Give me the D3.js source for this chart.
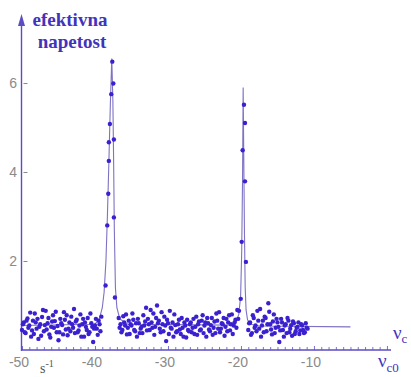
<!DOCTYPE html>
<html><head><meta charset="utf-8">
<script src="https://cdn.jsdelivr.net/npm/d3@7/dist/d3.min.js"></script>
<style>
html,body{margin:0;padding:0;background:#fff;}
svg{display:block;}
</style>
</head><body>
<svg id="c" width="411" height="377"></svg>
<script>
// ---- data ----
const xTickValues = [-50, -40, -30, -20, -10];
const yTickValues = [2, 4, 6];

// noise samples (series A on 0.25 grid)
const noiseLeftStart = -50;
const noiseLeft = [0.45,0.62,0.38,0.71,0.55,0.30,0.66,0.82,0.48,0.25,0.58,0.74,0.42,0.88,0.60,0.35,0.52,0.78,0.65,0.40,0.22,0.70,0.56,0.85,0.46,0.33,0.62,0.75,0.50,0.38,0.68,0.44,0.80,0.58,0.30,0.52,0.72,0.40,0.60,0.18,0.55,0.48,0.66,0.42];
const noiseMidStart = -36.75;
const noiseMid = [0.72,0.58,0.45,0.62,0.80,0.50,0.36,0.55,0.68,0.42,0.30,0.60,0.48,0.38,0.55,0.95,0.70,0.45,0.62,0.82,0.52,1.00,0.66,0.40,0.58,0.75,0.20,0.60,0.88,0.48,0.30,0.56,0.42,0.68,0.36,0.50,0.62,0.28,0.45,0.58,0.40,0.70,0.52,0.34,0.64,0.46,0.78,0.55,0.30,0.60,0.42,0.72,0.50,0.38,0.66,0.85,0.48,0.58,0.32,0.70,0.62,0.44,0.80,0.55,0.68,0.90];
const noiseRightStart = -19;
const noiseRight = [0.45,0.62,0.38,0.72,0.55,0.88,0.48,0.30,0.66,0.75,0.42,1.05,0.58,0.35,0.80,0.50,0.62,0.18,0.70,0.45,0.55,0.38,0.66,0.48,0.32,0.60,0.42,0.52,0.36,0.58,0.45,0.40,0.50];
// noise series B (offset by 0.125)
const noiseLeftB = [0.58,0.40,0.66,0.50,0.84,0.44,0.36,0.62,0.70,0.52,0.32,0.90,0.56,0.46,0.72,0.28,0.64,0.50,0.86,0.54,0.40,0.60,0.35,0.68,0.78,0.48,0.42,0.58,0.92,0.64,0.40,0.55,0.30,0.70,0.62,0.45,0.36,0.82,0.52,0.48,0.70,0.34,0.58,0.75];
const noiseMidB = [0.50,0.40,0.76,0.55,0.35,0.66,0.58,0.82,0.45,0.60,0.70,0.38,0.52,0.78,0.64,0.44,0.58,0.90,0.50,0.34,0.72,0.60,0.48,0.85,0.42,0.55,0.68,0.36,0.50,0.62,0.80,0.40,0.58,0.46,0.72,0.30,0.55,0.68,0.42,0.62,0.50,0.36,0.75,0.58,0.44,0.66,0.38,0.62,0.72,0.46,0.56,0.34,0.64,0.82,0.48,0.40,0.60,0.72,0.52,0.42,0.78,0.58,0.36,0.62,0.50,0.70];
const noiseRightB = [0.60,0.34,0.78,0.50,0.42,0.66,0.92,0.55,0.40,0.72,0.58,0.86,0.46,0.64,0.38,0.70,0.52,0.44,0.62,0.30,0.58,0.72,0.40,0.56,0.64,0.36,0.50,0.62,0.44,0.55,0.38,0.60,0.48];

// measured points on peaks
const peak1X = [-38.55,-38.32,-38.18,-38.10,-38.10,-37.96,-37.77,-37.63,-37.49,-37.41,-37.41,-37.27];
const peak1Y = [1.45,2.80,3.51,4.25,4.67,5.08,5.75,6.48,5.99,4.73,2.98,1.18];
const peak2X = [-20.27,-20.03,-19.90,-19.77,-19.59,-19.45,-19.45,-19.32];
const peak2Y = [0.88,1.15,2.43,4.49,5.51,5.10,3.79,1.98];

// fitted curve
const curveX = [-50,-40,-39.4,-39.0,-38.75,-38.5,-38.3,-38.1,-37.9,-37.7,-37.55,-37.45,-37.35,-37.2,-37.0,-36.6,-35.5,-21.5,-20.7,-20.3,-20.05,-19.9,-19.78,-19.7,-19.62,-19.52,-19.42,-19.3,-19.1,-18.7,-17.5,-5];
const curveY = [0.55,0.58,0.70,0.95,1.30,2.00,3.00,4.20,5.50,6.55,5.60,4.30,2.70,1.40,0.95,0.70,0.58,0.56,0.62,0.80,1.20,2.20,3.90,5.90,4.40,2.60,1.40,0.90,0.68,0.58,0.54,0.52];

// ---- drawing ----
const svg = d3.select('#c');
const x = d3.scaleLinear().domain([-50, 0.5]).range([22, 390.6]);
const y = d3.scaleLinear().domain([0, 6]).range([350, 83]);

const axisCol = '#5a4cc4';
const dotCol = '#3a20cf';
const textCol = '#4333bb';
const tickTextCol = '#8a8a8a';

// build points
const pts = [];
const addSeries = (arr, start) => arr.forEach((v,i)=>pts.push([start + i*0.25, v]));
addSeries(noiseLeft, noiseLeftStart);
addSeries(noiseMid, noiseMidStart);
addSeries(noiseRight, noiseRightStart);
addSeries(noiseLeftB, noiseLeftStart + 0.125);
addSeries(noiseMidB, noiseMidStart + 0.125);
addSeries(noiseRightB, noiseRightStart + 0.125);
peak1X.forEach((v,i)=>pts.push([v, peak1Y[i]]));
peak2X.forEach((v,i)=>pts.push([v, peak2Y[i]]));

// x axis
const xAxis = d3.axisBottom(x).tickValues(d3.range(-50, 1, 1)).tickSize(-3).tickFormat('');
const gx = svg.append('g').attr('transform','translate(0,350)').call(xAxis);
gx.select('.domain').attr('stroke', axisCol).attr('stroke-width',1.4).attr('d','M22,0H391');
gx.selectAll('.tick line').attr('stroke', axisCol).attr('stroke-width',0.8);
gx.selectAll('.tick').filter(d=>d%10===0).select('line').attr('y2',-4);
svg.append('g').selectAll('text').data(xTickValues).join('text')
  .attr('x', d=>x(d)-3).attr('y', 367).attr('text-anchor','middle')
  .attr('font-family','Liberation Sans, Arial, sans-serif').attr('font-size',14)
  .attr('fill', tickTextCol).text(d=>String(d));

// y axis
const yAxis = d3.axisLeft(y).tickValues(yTickValues).tickSize(-6).tickFormat('');
const gy = svg.append('g').attr('transform','translate(21.5,0)').call(yAxis);
gy.select('.domain').attr('stroke', axisCol).attr('stroke-width',1.4).attr('d','M0,351V22');
gy.selectAll('.tick line').attr('stroke', tickTextCol).attr('stroke-width',1).attr('x1',2);
svg.append('g').selectAll('text').data(yTickValues).join('text')
  .attr('x', 17).attr('y', d=>y(d)+5).attr('text-anchor','end')
  .attr('font-family','Liberation Sans, Arial, sans-serif').attr('font-size',14)
  .attr('fill', tickTextCol).text(d=>d);
// arrow
svg.append('path').attr('d','M21.5,14 L25,26 L18,26 Z').attr('fill', axisCol);

// curve
const line = d3.line().x(d=>x(d[0])).y(d=>y(d[1]));
svg.append('path').datum(curveX.map((v,i)=>[v, curveY[i]]))
  .attr('d', line).attr('fill','none').attr('stroke','#7d72c4').attr('stroke-width',1.1);

// dots
svg.append('g').selectAll('circle').data(pts).join('circle')
  .attr('cx', d=>x(d[0])).attr('cy', d=>y(d[1])).attr('r', 2.2).attr('fill', dotCol);

// labels
const serif = 'Liberation Serif, Times New Roman, serif';
svg.append('text').attr('x',70).attr('y',26).attr('text-anchor','middle')
  .attr('font-family',serif).attr('font-size',19).attr('font-weight','bold').attr('fill',textCol).text('efektivna');
svg.append('text').attr('x',72).attr('y',48).attr('text-anchor','middle')
  .attr('font-family',serif).attr('font-size',19).attr('font-weight','bold').attr('fill',textCol).text('napetost');

const nu1 = svg.append('text').attr('x',393).attr('y',339).attr('font-family',serif).attr('font-size',19).attr('fill',textCol);
nu1.append('tspan').text('ν');
nu1.append('tspan').attr('dy',4).attr('font-size',13).text('c');

const nu2 = svg.append('text').attr('x',378).attr('y',367).attr('font-family',serif).attr('font-size',19).attr('fill',textCol);
nu2.append('tspan').text('ν');
nu2.append('tspan').attr('dy',5).attr('font-size',13).text('c0');

const s1 = svg.append('text').attr('x',40).attr('y',373).attr('font-family',serif).attr('font-size',14).attr('fill','#555');
s1.append('tspan').text('s');
s1.append('tspan').attr('dy',-6).attr('font-size',10).text('-1');
</script>
</body></html>
